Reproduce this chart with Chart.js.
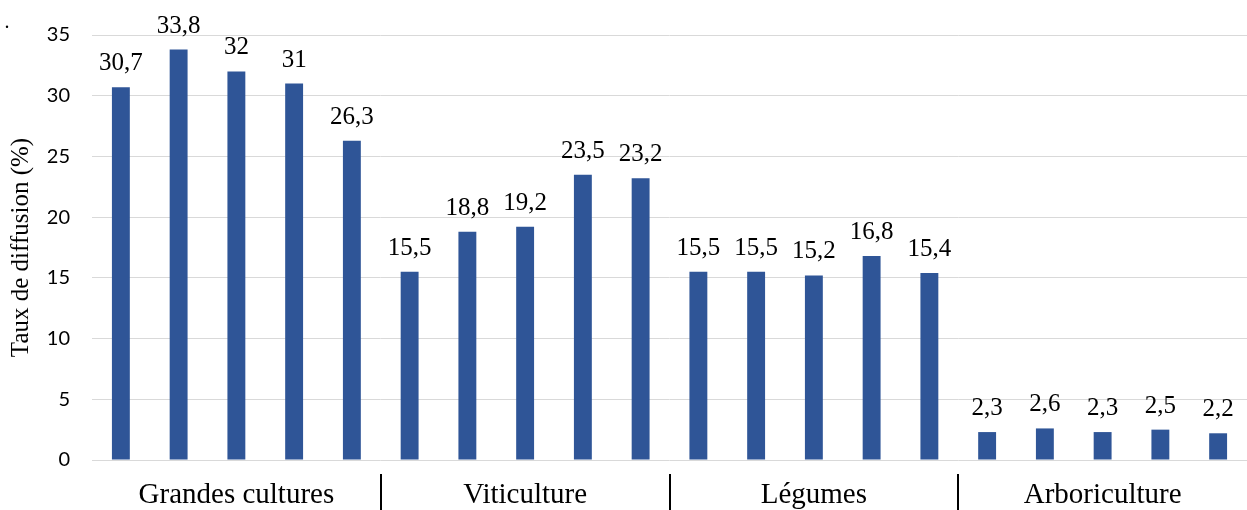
<!DOCTYPE html>
<html>
<head>
<meta charset="utf-8">
<script src="https://cdn.jsdelivr.net/npm/chart.js@4"></script>
<style>
  html, body { margin: 0; padding: 0; background: #fff; }
  #wrap { width: 1247px; height: 510px; position: relative; }
</style>
</head>
<body>
<div id="wrap"><canvas id="chart"></canvas></div>
<script>
// groupes de cultures (5 barres chacun)
const groups = ['Grandes cultures', 'Viticulture', 'Légumes', 'Arboriculture'];
const perGroup = 5;
const values = [
  30.7, 33.8, 32, 31, 26.3,
  15.5, 18.8, 19.2, 23.5, 23.2,
  15.5, 15.5, 15.2, 16.8, 15.4,
  2.3, 2.6, 2.3, 2.5, 2.2
];
const yMax = 35;
const yStep = 5;
const yTitle = 'Taux de diffusion (%)';

const labels = values.map((v, i) => groups[Math.floor(i / perGroup)] + ' ' + (i % perGroup + 1));

const serif = "'Liberation Serif', 'Times New Roman', serif";
const barColor = '#2F5597';
const gridColor = '#d9d9d9';

// valeurs au-dessus des barres
const valueLabels = {
  id: 'valueLabels',
  afterDatasetsDraw(chart) {
    const ctx = chart.ctx;
    const meta = chart.getDatasetMeta(0);
    ctx.save();
    ctx.font = '25px ' + serif;
    ctx.fillStyle = '#000';
    ctx.textAlign = 'center';
    ctx.textBaseline = 'alphabetic';
    meta.data.forEach((bar, i) => {
      ctx.fillText(String(values[i]).replace('.', ','), bar.x, bar.y - 17);
    });
    ctx.restore();
  }
};

// étiquettes de groupes + séparateurs sous l'axe
const groupAxis = {
  id: 'groupAxis',
  afterDraw(chart) {
    const ctx = chart.ctx;
    const x = chart.scales.x;
    const bottom = chart.chartArea.bottom;
    ctx.save();
    ctx.font = '29px ' + serif;
    ctx.fillStyle = '#000';
    ctx.textAlign = 'center';
    ctx.textBaseline = 'alphabetic';
    groups.forEach((g, gi) => {
      const a = x.getPixelForValue(gi * perGroup);
      const b = x.getPixelForValue(gi * perGroup + perGroup - 1);
      ctx.fillText(g, (a + b) / 2, bottom + 43);
      if (gi < groups.length - 1) {
        const s = Math.round((b + x.getPixelForValue(gi * perGroup + perGroup)) / 2);
        ctx.fillRect(s - 1, bottom + 14, 2, 36);
      }
    });
    // petit point isolé en haut à gauche
    ctx.font = '20px ' + serif;
    ctx.fillText('.', 7, 28);
    ctx.restore();
  }
};

new Chart(document.getElementById('chart'), {
  type: 'bar',
  data: {
    labels,
    datasets: [{
      data: values,
      backgroundColor: barColor,
      borderWidth: 0,
      barPercentage: 0.31,
      categoryPercentage: 1
    }]
  },
  options: {
    responsive: true,
    maintainAspectRatio: false,
    animation: false,
    layout: { padding: { top: 35, bottom: 50, left: 0, right: 0 } },
    plugins: {
      legend: { display: false },
      tooltip: { enabled: false }
    },
    scales: {
      x: { display: false },
      y: {
        min: 0,
        max: yMax,
        afterFit(scale) { scale.width = 92; },
        border: { display: false },
        grid: { color: gridColor, lineWidth: 1, drawTicks: false },
        ticks: {
          stepSize: yStep,
          padding: 22,
          color: '#000',
          font: { family: "Lato, 'Open Sans', sans-serif", size: 20 }
        },
        title: {
          display: true,
          text: yTitle,
          color: '#000',
          padding: { top: 6, bottom: 0 },
          font: { family: serif, size: 25 }
        }
      }
    }
  },
  plugins: [valueLabels, groupAxis]
});
</script>
</body>
</html>
